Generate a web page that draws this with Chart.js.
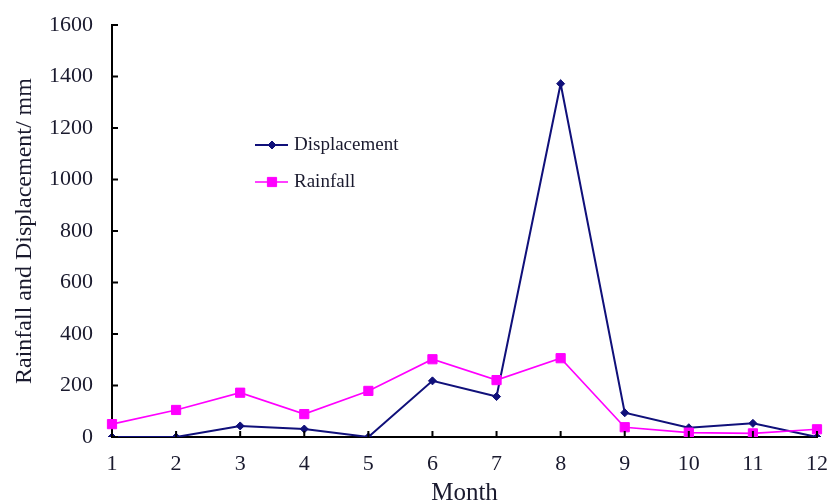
<!DOCTYPE html>
<html>
<head>
<meta charset="utf-8">
<script src="https://cdn.jsdelivr.net/npm/chart.js@4/dist/chart.umd.min.js"></script>
<style>
  html, body { margin: 0; padding: 0; background: #fff; }
  #wrap { width: 834px; height: 504px; position: relative; }
</style>
</head>
<body>
<div id="wrap"><canvas id="c"></canvas></div>
<script>
const months = ['1','2','3','4','5','6','7','8','9','10','11','12'];
const displacement = [0, 0, 43, 31, 0, 218, 157, 1372, 94, 36, 53, 0];
const rainfall = [50, 105, 172, 89, 179, 302, 221, 306, 38, 17, 14, 30];
const yTicks = [0, 200, 400, 600, 800, 1000, 1200, 1400, 1600];
const xTitle = 'Month';
const yTitle = 'Rainfall and Displacement/ mm';

const SERIF = '"Liberation Serif", "Times New Roman", serif';

const innerTicks = {
  id: 'innerTicks',
  afterDraw(chart) {
    const ctx = chart.ctx, a = chart.chartArea;
    const xs = chart.scales.x, ys = chart.scales.y;
    ctx.save();
    ctx.strokeStyle = '#000';
    ctx.lineWidth = 2;
    ctx.beginPath();
    xs.ticks.forEach((t, i) => {
      const px = xs.getPixelForTick(i);
      ctx.moveTo(px, a.bottom); ctx.lineTo(px, a.bottom - 6);
    });
    ys.ticks.forEach((t, i) => {
      const py = ys.getPixelForTick(i);
      ctx.moveTo(a.left, py); ctx.lineTo(a.left + 6, py);
    });
    ctx.stroke();
    ctx.restore();
  }
};

const innerLegend = {
  id: 'innerLegend',
  afterDraw(chart) {
    const ctx = chart.ctx;
    const rows = [
      { ds: chart.data.datasets[0], y: 145 },
      { ds: chart.data.datasets[1], y: 182 }
    ];
    ctx.save();
    rows.forEach(r => {
      ctx.strokeStyle = r.ds.borderColor;
      ctx.lineWidth = r.ds.borderWidth;
      ctx.beginPath();
      ctx.moveTo(255, r.y); ctx.lineTo(288, r.y);
      ctx.stroke();
      ctx.fillStyle = r.ds.backgroundColor;
      ctx.strokeStyle = r.ds.borderColor;
      ctx.lineWidth = 1;
      Chart.helpers.drawPoint(ctx, {
        pointStyle: r.ds.pointStyle,
        radius: r.ds.pointRadius,
        borderWidth: r.ds.pointBorderWidth,
        rotation: 0
      }, 272, r.y);
      ctx.fillStyle = '#1a1a2e';
      ctx.font = '19px ' + SERIF;
      ctx.textBaseline = 'middle';
      ctx.textAlign = 'left';
      ctx.fillText(r.ds.label, 294, r.y);
    });
    ctx.restore();
  }
};

new Chart(document.getElementById('c'), {
  type: 'line',
  data: {
    labels: months,
    datasets: [
      {
        label: 'Displacement',
        data: displacement,
        borderColor: '#10107a',
        backgroundColor: '#10107a',
        borderWidth: 2,
        pointStyle: 'rectRot',
        pointRadius: 4,
        pointBorderWidth: 1,
        order: 2,
        tension: 0
      },
      {
        label: 'Rainfall',
        data: rainfall,
        borderColor: '#ff00ff',
        backgroundColor: '#ff00ff',
        borderWidth: 1.6,
        pointStyle: 'rect',
        pointRadius: 6.5,
        pointBorderWidth: 1,
        order: 1,
        tension: 0
      }
    ]
  },
  options: {
    responsive: true,
    maintainAspectRatio: false,
    animation: false,
    devicePixelRatio: 1,
    layout: { padding: { top: 25, right: 15, left: 0, bottom: 0 } },
    plugins: {
      legend: { display: false },
      tooltip: { enabled: false }
    },
    scales: {
      x: {
        type: 'category',
        offset: false,
        grid: { display: false },
        border: { display: true, color: '#000', width: 2 },
        ticks: { color: '#1a1a2e', font: { family: SERIF, size: 22 }, padding: 6, maxRotation: 0, autoSkip: false },
        title: { display: true, text: xTitle, color: '#1a1a2e', font: { family: SERIF, size: 25 }, padding: { top: 0, bottom: -4 } },
        afterFit(scale) { scale.height = 67; }
      },
      y: {
        min: yTicks[0],
        max: yTicks[yTicks.length - 1],
        grid: { display: false },
        border: { display: true, color: '#000', width: 2 },
        ticks: {
          stepSize: yTicks[1] - yTicks[0],
          color: '#1a1a2e',
          font: { family: SERIF, size: 22 },
          padding: 11,
          callback: (v) => String(v)
        },
        title: { display: true, text: yTitle, color: '#1a1a2e', font: { family: SERIF, size: 24 }, padding: { top: 10, bottom: 0 } },
        afterFit(scale) { scale.width = 112; }
      }
    }
  },
  plugins: [innerTicks, innerLegend]
});
</script>
</body>
</html>
